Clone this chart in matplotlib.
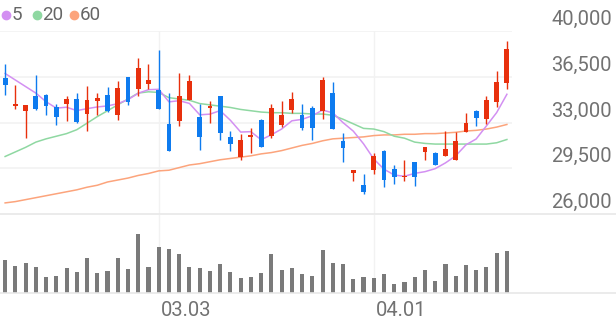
import matplotlib
matplotlib.use('Agg')
import matplotlib.pyplot as plt
import matplotlib.transforms as mtransforms
from matplotlib.lines import Line2D
import numpy as np
import pandas as pd

plt.rcParams['font.family'] = ['Roboto', 'DejaVu Sans']

# daily candles (KRW)
opens = [36400, 34250, 33850, 35050, 35100, 34150, 34400, 34800, 33650, 34650,
         35100, 33600, 36450, 35550, 35950, 35450, 32850, 33150, 34750, 33400,
         34100, 35000, 31900, 30350, 31900, 33200, 31950, 32800, 33950, 33550,
         34100, 33900, 35250, 31600, 29150, 28200, 29400, 30850, 29450, 28800,
         29950, 30750, 30650, 30450, 30150, 32250, 33900, 33250, 34600, 36000]
highs = [37450, 35850, 34350, 36600, 35150, 34450, 35050, 35250, 35800, 35250,
         35700, 36200, 36500, 37900, 37450, 38550, 35250, 36800, 36650, 34400,
         34650, 35050, 32350, 32150, 32600, 33250, 34400, 34650, 35300, 34400,
         34250, 36450, 36100, 32200, 29400, 29050, 30700, 30900, 29750, 30100,
         30000, 31150, 30750, 32350, 32250, 33750, 33950, 35000, 36950, 39200]
lows = [35100, 34050, 31800, 33950, 33550, 32800, 33100, 33000, 32350, 33550,
        33800, 33200, 34350, 35050, 35600, 34000, 30800, 32750, 34700, 30900,
        33000, 31650, 30850, 30150, 30650, 31150, 31850, 32650, 33700, 32450,
        31650, 33250, 32500, 30000, 28550, 27500, 29050, 28100, 28300, 28500,
        28150, 30150, 29750, 30400, 30150, 32250, 32700, 32900, 34150, 35550]
closes = [35900, 34450, 34350, 34000, 34250, 33450, 34800, 33050, 34750, 34900,
          33850, 35650, 34600, 37200, 36250, 34000, 30850, 35050, 36150, 31900,
          34250, 32200, 31350, 31650, 32050, 31150, 34100, 33550, 34800, 32600,
          32550, 36250, 32500, 31050, 29350, 27700, 30450, 28600, 28800, 28900,
          28800, 31100, 29750, 31000, 31600, 33000, 33350, 34750, 36100, 38600]
# volume (thousand shares)
volumes = [100, 81, 91, 79, 49, 50, 74, 62, 105, 59, 67, 106, 72, 175, 77, 136, 132,
           115, 78, 76, 65, 87, 63, 44, 48, 60, 117, 68, 74, 57, 52, 127, 89, 87,
           42, 48, 45, 56, 29, 33, 47, 69, 37, 87, 50, 84, 68, 79, 118, 126]

ma5_head = [36750, 36250, 35750, 35250]
ma20 = [30400, 30750, 31100, 31500, 31750, 31950, 32150, 32450, 32950, 33450,
        33900, 34350, 34800, 35250, 35350, 35300, 34900, 34800, 34700, 34450,
        34350, 34250, 34150, 34000, 33900, 33800, 33750, 33750, 33700, 33700,
        33650, 33650, 33550, 33250, 32900, 32550, 32500, 32300, 31950, 31800,
        31500, 31400, 31350, 31350, 31350, 31350, 31350, 31350, 31450, 31700]
ma60 = [26850, 26950, 27100, 27250, 27400, 27550, 27700, 27850, 28050, 28200,
        28450, 28600, 28750, 28950, 29100, 29300, 29350, 29550, 29750, 29850,
        30000, 30150, 30250, 30350, 30450, 30600, 30700, 30850, 31050, 31250,
        31400, 31600, 31750, 31800, 31850, 31900, 32000, 32050, 32050, 32100,
        32100, 32150, 32150, 32200, 32250, 32350, 32400, 32500, 32650, 32850]

date_pos = [15, 36]
date_labels = ['03.03', '04.01']
price_ticks = [40000, 36500, 33000, 29500, 26000]
price_labels = ['40,000', '36,500', '33,000', '29,500', '26,000']

UP, DOWN = '#e8300d', '#0e7bef'
GRID = '#f2f2f2'
TXT = '#727272'

ma5 = pd.Series(closes, dtype=float).rolling(5).mean().values
ma5[:4] = ma5_head

x = np.arange(len(closes))

fig = plt.figure(figsize=(6.16, 3.21), dpi=100)
ax = fig.add_axes([0, 0.3333, 0.8312, 0.5701])
axv = fig.add_axes([0, 0.0863, 0.8312, 0.2439])

for a in (ax, axv):
    a.set_xlim(-0.5, 49.5)
    a.axis('off')
ax.set_ylim(26000, 40000)
axv.set_ylim(0, 232)

# grid
for p in price_ticks[:-1]:
    ax.axhline(p, color=GRID, lw=1.2, zorder=0)
for d in date_pos:
    ax.axvline(d, color=GRID, lw=1.0, zorder=0)
    axv.axvline(d, color=GRID, lw=1.0, zorder=0)
for yf in [(321 - 214) / 321, (321 - 293.3) / 321]:
    fig.add_artist(Line2D([0, 1], [yf, yf], transform=fig.transFigure,
                          color='#e8e8e8', lw=1.2))

# moving averages
ax.plot(x, ma60, color='#fca47c', lw=1.1, zorder=2)
ax.plot(x, ma20, color='#8fd8a2', lw=1.1, zorder=2)
ax.plot(x, ma5, color='#d390f2', lw=1.1, zorder=2)

# candles
colors = [UP if c >= o else DOWN for o, c in zip(opens, closes)]
ax.vlines(x, lows, highs, colors=colors, lw=1.0, zorder=3)
bottoms = np.minimum(opens, closes)
heights = np.maximum(np.abs(np.array(closes) - np.array(opens)), 60)
ax.bar(x, heights, bottom=bottoms, width=0.47, color=colors, zorder=4)

# volume
axv.bar(x, volumes, width=0.4, color='#7a7a7a')

# right price labels
tr = mtransforms.blended_transform_factory(fig.transFigure, ax.transData)
for p, lab in zip(price_ticks, price_labels):
    ax.text(612 / 616, p + 460, lab, transform=tr, ha='right', va='baseline',
            fontsize=14.5, color=TXT, clip_on=False)

# date labels
trd = mtransforms.blended_transform_factory(axv.transData, fig.transFigure)
for d, lab in zip(date_pos, date_labels):
    axv.text(d + 0.2, (321 - 310.5) / 321, lab, transform=trd, ha='left',
             va='center', fontsize=14.5, color=TXT, clip_on=False)

# legend
legend_items = [('5', '#d390f2', 6), ('20', '#8fd8a2', 37), ('60', '#fca47c', 74)]
for lab, col, px in legend_items:
    yf = (321 - 15) / 321
    fig.add_artist(Line2D([px / 616], [yf], transform=fig.transFigure,
                          marker='o', markersize=6, color=col, lw=0))
    fig.text((px + 5.5) / 616, yf, lab, ha='left', va='center',
             fontsize=13.5, color='#666666')

fig.savefig('out.png', dpi=100)
